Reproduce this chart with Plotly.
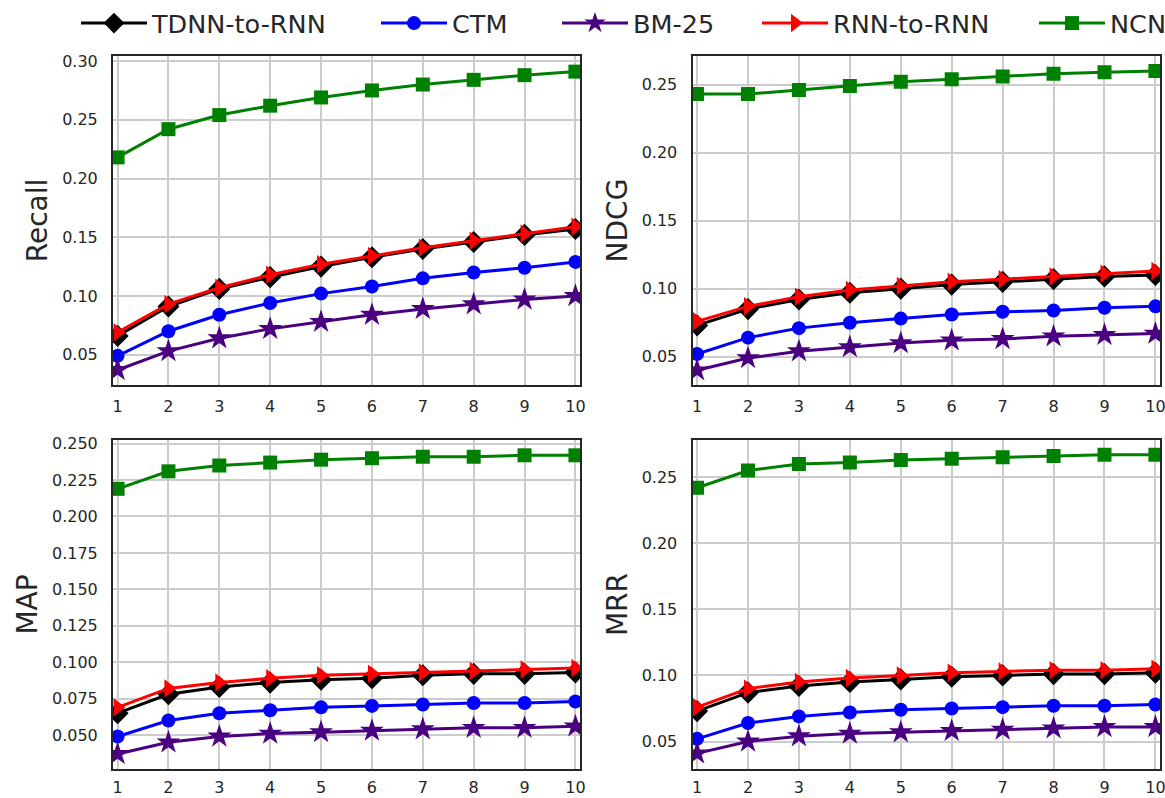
import plotly.graph_objects as go

k = list(range(1, 11))

series_names = ["TDNN-to-RNN", "CTM", "BM-25", "RNN-to-RNN", "NCN"]

recall_tdnn = [0.066, 0.091, 0.106, 0.116, 0.125, 0.133, 0.140, 0.146, 0.152, 0.157]
recall_ctm = [0.049, 0.070, 0.084, 0.094, 0.102, 0.108, 0.115, 0.120, 0.124, 0.129]
recall_bm25 = [0.037, 0.053, 0.064, 0.072, 0.078, 0.084, 0.089, 0.093, 0.097, 0.100]
recall_rnn = [0.069, 0.093, 0.107, 0.118, 0.127, 0.134, 0.141, 0.147, 0.153, 0.159]
recall_ncn = [0.218, 0.242, 0.254, 0.262, 0.269, 0.275, 0.280, 0.284, 0.288, 0.291]

ndcg_tdnn = [0.073, 0.085, 0.092, 0.097, 0.100, 0.103, 0.105, 0.107, 0.109, 0.110]
ndcg_ctm = [0.052, 0.064, 0.071, 0.075, 0.078, 0.081, 0.083, 0.084, 0.086, 0.087]
ndcg_bm25 = [0.040, 0.049, 0.054, 0.057, 0.060, 0.062, 0.063, 0.065, 0.066, 0.067]
ndcg_rnn = [0.076, 0.087, 0.094, 0.099, 0.102, 0.105, 0.107, 0.109, 0.111, 0.113]
ndcg_ncn = [0.243, 0.243, 0.246, 0.249, 0.252, 0.254, 0.256, 0.258, 0.259, 0.260]

map_tdnn = [0.065, 0.078, 0.083, 0.086, 0.088, 0.089, 0.091, 0.092, 0.092, 0.093]
map_ctm = [0.049, 0.060, 0.065, 0.067, 0.069, 0.070, 0.071, 0.072, 0.072, 0.073]
map_bm25 = [0.037, 0.045, 0.049, 0.051, 0.052, 0.053, 0.054, 0.055, 0.055, 0.056]
map_rnn = [0.069, 0.082, 0.086, 0.089, 0.091, 0.092, 0.093, 0.094, 0.095, 0.096]
map_ncn = [0.219, 0.231, 0.235, 0.237, 0.239, 0.240, 0.241, 0.241, 0.242, 0.242]

mrr_tdnn = [0.073, 0.087, 0.092, 0.095, 0.097, 0.099, 0.100, 0.101, 0.101, 0.102]
mrr_ctm = [0.052, 0.064, 0.069, 0.072, 0.074, 0.075, 0.076, 0.077, 0.077, 0.078]
mrr_bm25 = [0.041, 0.050, 0.054, 0.056, 0.057, 0.058, 0.059, 0.060, 0.061, 0.061]
mrr_rnn = [0.076, 0.090, 0.095, 0.098, 0.100, 0.102, 0.103, 0.104, 0.104, 0.105]
mrr_ncn = [0.242, 0.255, 0.260, 0.261, 0.263, 0.264, 0.265, 0.266, 0.267, 0.267]

panels = [
    ("Recall", [recall_tdnn, recall_ctm, recall_bm25, recall_rnn, recall_ncn]),
    ("NDCG", [ndcg_tdnn, ndcg_ctm, ndcg_bm25, ndcg_rnn, ndcg_ncn]),
    ("MAP", [map_tdnn, map_ctm, map_bm25, map_rnn, map_ncn]),
    ("MRR", [mrr_tdnn, mrr_ctm, mrr_bm25, mrr_rnn, mrr_ncn]),
]

colors = ["black", "blue", "#4b0082", "red", "green"]
symbols = ["diamond", "circle", "star", "triangle-right", "square"]
msizes = [17, 14, 18, 16, 14]

W, H = 1165, 798
xdoms = [[113 / W, 580 / W], [692.5 / W, 1160 / W]]
ydoms = [[1 - 385 / H, 1 - 56 / H], [1 - 769 / H, 1 - 440 / H]]
yranges = [[0.0242, 0.3043], [0.0292, 0.2710], [0.0267, 0.2525], [0.0292, 0.2781]]
ydticks = [0.05, 0.05, 0.025, 0.05]
ytickfmt = [".2f", ".2f", ".3f", ".2f"]
xstandoff = [6, 3]

# left pixel of each legend entry (one legend per series)
legend_left_px = [76, 376, 557, 757, 1034]
legend_ids = ["legend", "legend2", "legend3", "legend4", "legend5"]

fig = go.Figure()
layout_axes = {}
for p, (name, data) in enumerate(panels):
    row, col = divmod(p, 2)
    xa = "x" if p == 0 else f"x{p+1}"
    ya = "y" if p == 0 else f"y{p+1}"
    for s in range(5):
        fig.add_trace(go.Scatter(
            x=k, y=data[s], mode="lines+markers", name=series_names[s],
            legend=legend_ids[s], showlegend=(p == 0),
            line=dict(color=colors[s], width=3),
            marker=dict(symbol=symbols[s], size=msizes[s], color=colors[s],
                        line=dict(width=0)),
            xaxis=xa, yaxis=ya,
        ))
    axcommon = dict(showline=True, linecolor="#262626", linewidth=2, mirror=True,
                    showgrid=True, gridcolor="#cccccc", gridwidth=1.5,
                    ticks="", zeroline=False, automargin=False,
                    ticklabeloverflow="allow",
                    tickfont=dict(family="DejaVu Sans", size=16, color="#262626"))
    layout_axes["xaxis" if p == 0 else f"xaxis{p+1}"] = dict(
        domain=xdoms[col], anchor=ya, range=[0.91, 10.09], tickmode="linear",
        tick0=1, dtick=1, ticklabelstandoff=xstandoff[row], **axcommon)
    layout_axes["yaxis" if p == 0 else f"yaxis{p+1}"] = dict(
        domain=ydoms[row], anchor=xa, range=yranges[p], tickmode="linear",
        tick0=0, dtick=ydticks[p], tickformat=ytickfmt[p], ticklabelstandoff=10,
        title=dict(text=name, font=dict(family="DejaVu Sans", size=28, color="#262626"),
                   standoff=6),
        **axcommon)

legends = {}
for s, lid in enumerate(legend_ids):
    legends[lid] = dict(orientation="h", x=legend_left_px[s] / W, xanchor="left",
                        y=1.0, yanchor="top",
                        font=dict(family="DejaVu Sans", size=25.5, color="#262626"),
                        itemwidth=66, bgcolor="rgba(0,0,0,0)", borderwidth=0)

fig.update_layout(
    width=W, height=H,
    margin=dict(l=0, r=0, t=0, b=0, autoexpand=False),
    paper_bgcolor="white", plot_bgcolor="white",
    **legends,
    **layout_axes,
)

fig.write_html("out.html")
